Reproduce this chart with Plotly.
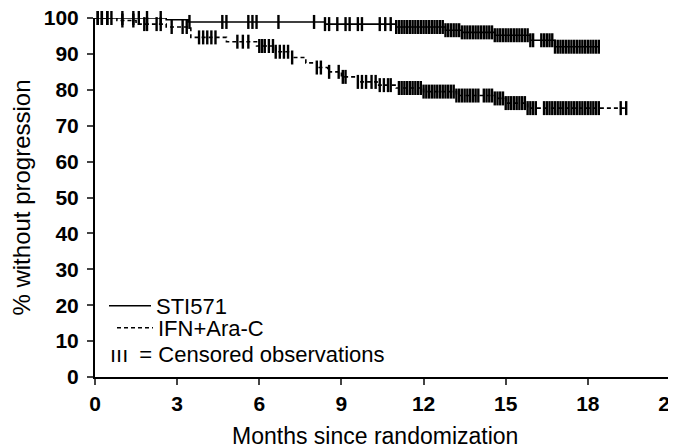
import numpy as np
import plotly.graph_objects as go

# STI571 Kaplan-Meier steps (months, % without progression)
sti_t = [0, 2.6, 3.4, 8.4, 11.0, 12.8, 13.4, 14.6, 15.9, 16.8, 18.4]
sti_s = [100, 99.5, 98.9, 98.3, 97.5, 96.6, 96.0, 95.2, 93.8, 92.0, 92.0]

# IFN+Ara-C Kaplan-Meier steps
ifn_t = [0, 0.8, 1.5, 2.6, 3.5, 4.8, 5.9, 6.6, 7.2, 7.7, 8.1, 8.5, 9.0, 9.6,
         10.3, 11.0, 12.0, 13.2, 14.6, 15.0, 15.8, 19.4]
ifn_s = [100, 99.3, 98.3, 97.5, 94.6, 93.4, 92.2, 90.6, 89.0, 87.5, 86.2, 85.0,
         83.6, 82.2, 81.3, 80.5, 79.5, 78.4, 77.6, 76.3, 74.9, 74.9]

# Censoring times
sti_cens = [0.1, 0.25, 0.45, 0.6, 1.0, 1.4, 1.6, 1.9, 2.4, 3.45, 4.65, 4.8, 5.6, 5.75,
            5.9, 6.7, 8.0, 8.4, 8.55, 8.85, 9.15, 9.3, 9.6, 9.75, 10.4, 10.6, 10.8, 11.0,
            11.1, 11.2, 11.3, 11.4, 11.5, 11.6, 11.7, 11.8, 11.9, 12.0,
            12.1, 12.2, 12.3, 12.4, 12.5, 12.6, 12.7, 12.8, 12.9, 13.0,
            13.1, 13.2, 13.3, 13.4, 13.5, 13.6, 13.7, 13.8, 13.9, 14.0,
            14.1, 14.2, 14.3, 14.4, 14.5, 14.6, 14.7, 14.8, 14.9, 15.0,
            15.1, 15.2, 15.3, 15.4, 15.5, 15.6, 15.7, 15.8, 15.9, 16.0,
            16.3, 16.4, 16.5, 16.6, 16.7, 16.8, 16.9, 17.0, 17.1, 17.2,
            17.3, 17.4, 17.5, 17.6, 17.7, 17.8, 17.9, 18.0, 18.1, 18.2, 18.3, 18.4]
ifn_cens = [0.1, 0.25, 0.45, 1.0, 1.4, 1.8, 1.9, 2.25, 2.4, 2.8, 3.2, 3.35, 3.8, 3.95,
            4.1, 4.25, 4.4, 5.2, 5.4, 5.6, 6.0, 6.1, 6.2, 6.35, 6.5, 6.6, 6.75, 6.9,
            7.05, 7.2, 8.1, 8.25, 8.55, 8.9, 9.05, 9.15, 9.6, 9.75, 9.9, 10.1, 10.25,
            10.4, 10.55, 10.7, 10.8,
            11.1, 11.2, 11.3, 11.4, 11.5, 11.6, 11.7, 11.8, 11.9, 12.0,
            12.1, 12.2, 12.3, 12.4, 12.5, 12.6, 12.7, 12.8, 12.9, 13.0,
            13.1, 13.2, 13.3, 13.4, 13.5, 13.6, 13.7, 13.8, 13.9, 14.0,
            14.2, 14.3, 14.4, 14.5, 14.6, 14.7, 14.8, 14.9, 15.0,
            15.1, 15.2, 15.3, 15.4, 15.5, 15.6, 15.7, 15.8, 15.9, 16.0, 16.1,
            16.4, 16.5, 16.6, 16.7, 16.8, 16.9, 17.0, 17.1, 17.2, 17.3,
            17.4, 17.5, 17.6, 17.7, 17.8, 17.9, 18.0, 18.1, 18.2, 18.3, 18.4,
            19.2, 19.4]

x_ticks = [0, 3, 6, 9, 12, 15, 18, 21]
y_ticks = [0, 10, 20, 30, 40, 50, 60, 70, 80, 90, 100]


def step_value(ts, ss, tq):
    idx = np.searchsorted(np.array(ts), np.array(tq), side="right") - 1
    return list(np.array(ss)[idx])


FONT = "Liberation Sans, Arial, sans-serif"
# the page body adds an 8px margin, so the figure is 8px smaller than the window
OFF = 8
W, H = 676 - OFF, 447 - OFF
ML, MR, MT, MB = 95 - OFF, 6, 18 - OFF, 70
PW, PH = W - ML - MR, H - MT - MB


def px_x(px):  # window pixel -> paper fraction
    return (px - OFF - ML) / PW


def px_y(py):
    return (H - MB - (py - OFF)) / PH


fig = go.Figure()
fig.add_trace(go.Scatter(x=sti_t, y=sti_s, mode="lines", line_shape="hv",
                         line=dict(color="black", width=1.6), name="STI571",
                         legend="legend"))
fig.add_trace(go.Scatter(x=ifn_t, y=ifn_s, mode="lines", line_shape="hv",
                         line=dict(color="black", width=1.6, dash="4px,3px"),
                         name="IFN+Ara-C", legend="legend2"))
fig.add_trace(go.Scatter(x=sti_cens, y=step_value(sti_t, sti_s, sti_cens), mode="markers",
                         marker=dict(symbol="line-ns", size=10,
                                     line=dict(color="black", width=2.4)),
                         showlegend=False, cliponaxis=False))
fig.add_trace(go.Scatter(x=ifn_cens, y=step_value(ifn_t, ifn_s, ifn_cens), mode="markers",
                         marker=dict(symbol="line-ns", size=10,
                                     line=dict(color="black", width=2.4)),
                         showlegend=False, cliponaxis=False))

fig.add_annotation(x=px_x(108), y=px_y(354), xref="paper", yref="paper",
                   text="ııı\u2002= Censored observations",
                   showarrow=False, xanchor="left", yanchor="middle",
                   font=dict(family=FONT, size=22, color="black"))

# x-axis title
fig.add_annotation(x=px_x(375), y=px_y(436), xref="paper", yref="paper",
                   text="Months since randomization",
                   showarrow=False, xanchor="center", yanchor="middle",
                   font=dict(family=FONT, size=23, color="black"))

leg_common = dict(xanchor="left", yanchor="middle", bgcolor="rgba(0,0,0,0)",
                  font=dict(family=FONT, size=22, color="black"), borderwidth=0)

fig.update_layout(
    width=W, height=H,
    margin=dict(l=ML, r=MR, t=MT, b=MB),
    paper_bgcolor="white", plot_bgcolor="white",
    font=dict(family=FONT, color="black"),
    legend=dict(x=px_x(104), y=px_y(306), itemwidth=42, **leg_common),
    legend2=dict(x=px_x(112), y=px_y(328), itemwidth=36, **leg_common),
    xaxis=dict(range=[0, 21], tickvals=x_ticks, ticks="outside", ticklen=6, tickwidth=2,
               showline=True, linecolor="black", linewidth=2, showgrid=False, zeroline=False,
               automargin=False, ticklabeloverflow="allow", ticklabelstandoff=1,
               tickfont=dict(family=FONT, size=21, color="black", weight="bold")),
    yaxis=dict(range=[0, 100], tickvals=y_ticks, ticks="outside", ticklen=6, tickwidth=2,
               showline=True, linecolor="black", linewidth=2, showgrid=False, zeroline=False,
               automargin=False, ticklabeloverflow="allow", ticklabelstandoff=4,
               tickfont=dict(family=FONT, size=21, color="black", weight="bold"),
               title=dict(text="% without progression",
                          font=dict(family=FONT, size=24, color="black"), standoff=9)),
)

fig.write_html("out.html")
